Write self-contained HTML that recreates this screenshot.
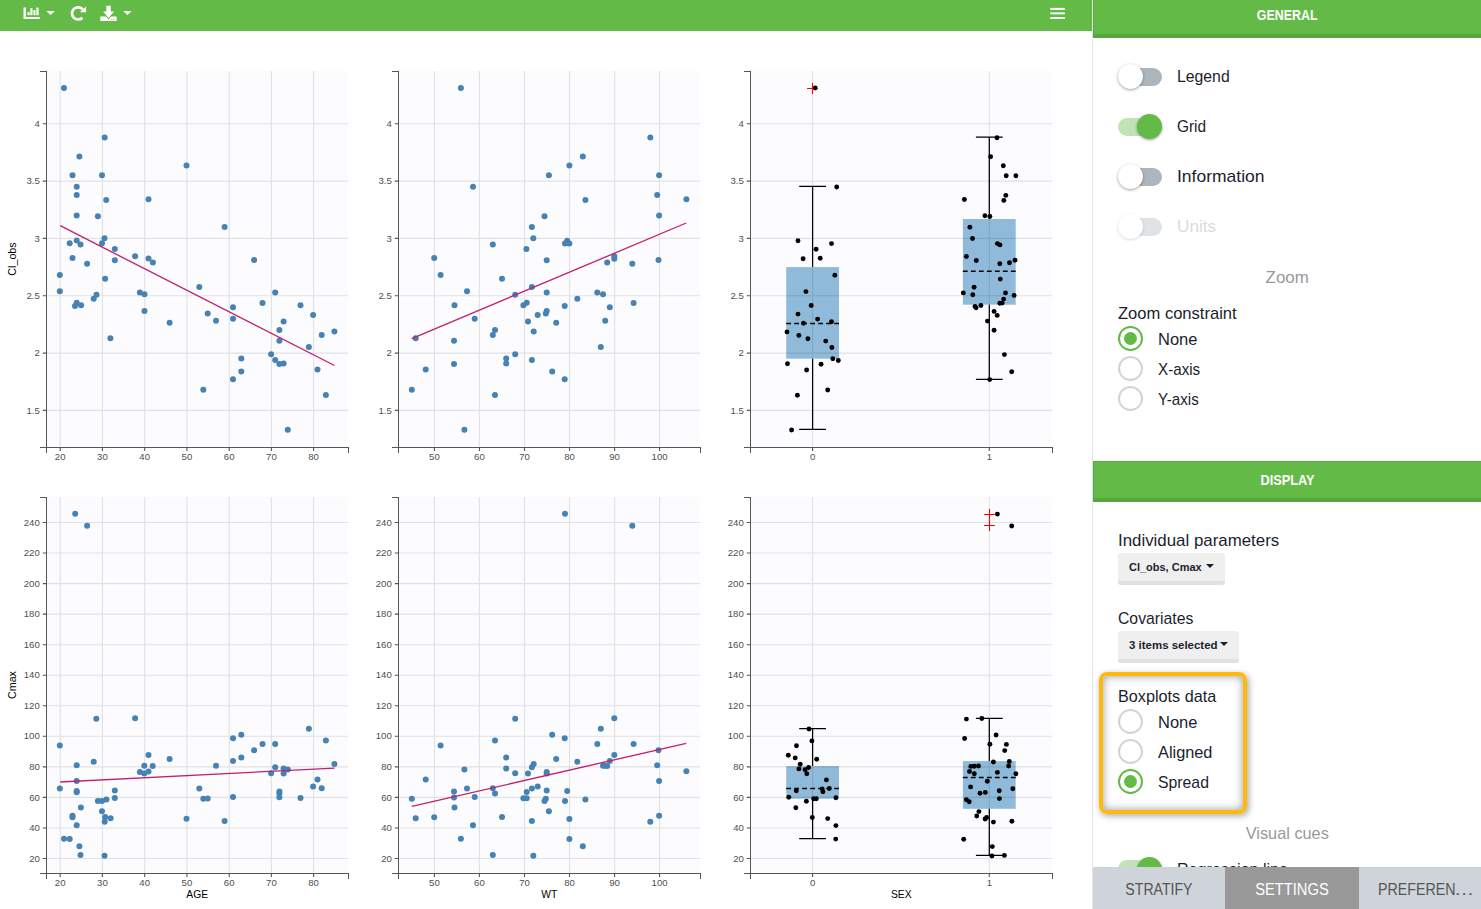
<!DOCTYPE html>
<html lang="en">
<head>
<meta charset="utf-8">
<title>Covariate viewer</title>
<style>
html,body{margin:0;padding:0;}
body{width:1481px;height:909px;overflow:hidden;position:relative;background:#fff;font-family:"Liberation Sans",sans-serif;color:#1d2030;}
.abs{position:absolute;}
#toolbar{left:0;top:0;width:1092px;height:31px;background:#63ba47;}
#plots{left:0;top:0;}
#plots text{font-family:"Liberation Sans",sans-serif;}
#sep{left:1092px;top:0;width:1px;height:909px;background:#e2e2ea;}
#panel{left:1093px;top:0;width:388px;height:909px;overflow:hidden;background:#fff;}
.hdr{position:absolute;left:0;width:388px;box-sizing:border-box;background:#63ba47;border-bottom:4px solid #57a63d;color:#fff;font-weight:bold;font-size:14.4px;text-align:center;}
.lbl{position:absolute;margin-top:1px;font-size:16.6px;line-height:20px;white-space:nowrap;color:#1b1e2e;}
.sub{position:absolute;margin-top:1px;left:0;width:388px;text-align:center;font-size:16.6px;line-height:20px;color:#999;}
.tg{position:absolute;left:25px;width:44px;height:18px;border-radius:9px;background:#adb5bd;}
.tg i{position:absolute;left:0;top:-3.5px;width:25px;height:25px;border-radius:50%;background:#fff;box-shadow:0 1px 3px rgba(0,0,0,.38);}
.tg.on{background:#c1e3b5;}
.tg.on i{left:19px;background:#63ba47;}
.tg.dis{background:#dfe3e6;}
.tg.dis i{box-shadow:0 1px 3px rgba(0,0,0,.15);}
.rd{position:absolute;left:25px;width:25px;height:25px;box-sizing:border-box;border:2px solid #ced4da;border-radius:50%;background:#fff;}
.rd.on{border-color:#63ba47;}
.rd.on:after{content:"";position:absolute;left:3.7px;top:3.7px;width:13.6px;height:13.6px;border-radius:50%;background:#63ba47;}
.btn{position:absolute;left:25px;height:31.5px;box-sizing:border-box;background:#efefef;border-bottom:4px solid #e0e0e0;border-radius:3px;font-weight:bold;font-size:11px;line-height:28.6px;padding-left:11px;color:#1b1e2e;white-space:nowrap;}
.btn b{position:absolute;top:11px;width:0;height:0;border-left:4.2px solid transparent;border-right:4.2px solid transparent;border-top:4.6px solid #1b1e2e;}
#hl{left:6px;top:672px;width:148px;height:142px;box-sizing:border-box;border:4px solid #ffb80c;border-radius:8px;box-shadow:1.5px 2px 6px rgba(0,0,0,.33),inset 0 0 8px rgba(0,0,0,.4);}
#tabs{left:-1px;top:867px;width:390px;height:42px;background:#ced4da;}
.tab{position:absolute;top:0;height:42px;line-height:45px;text-align:center;font-size:16.8px;color:#555;white-space:nowrap;}
.tab.act{background:#999;color:#fff;}
</style>
</head>
<body>
<svg id="plots" class="abs" width="1092" height="909" viewBox="0 0 1092 909">
<rect x="47" y="71" width="301" height="376" fill="#fcfcfe"/>
<path d="M60.2 71V447M102.4 71V447M144.7 71V447M186.9 71V447M229.2 71V447M271.4 71V447M313.6 71V447M47 123.8H348M47 181.1H348M47 238.4H348M47 295.8H348M47 353.1H348M47 410.4H348" stroke="#000" stroke-opacity="0.105" stroke-width="1.1" fill="none"/>
<path d="M40 71.5H46.5V453M40 447.5H348.5V453" stroke="#555" stroke-width="1" fill="none" shape-rendering="crispEdges"/>
<path d="M60.2 448v3M102.4 448v3M144.7 448v3M186.9 448v3M229.2 448v3M271.4 448v3M313.6 448v3M46 123.8h-3.2M46 181.1h-3.2M46 238.4h-3.2M46 295.8h-3.2M46 353.1h-3.2M46 410.4h-3.2" stroke="#555" stroke-width="1.1" fill="none"/>
<g font-size="9.6" fill="#4f4f4f">
<text x="60.2" y="459.7" text-anchor="middle">20</text>
<text x="102.4" y="459.7" text-anchor="middle">30</text>
<text x="144.7" y="459.7" text-anchor="middle">40</text>
<text x="186.9" y="459.7" text-anchor="middle">50</text>
<text x="229.2" y="459.7" text-anchor="middle">60</text>
<text x="271.4" y="459.7" text-anchor="middle">70</text>
<text x="313.6" y="459.7" text-anchor="middle">80</text>
<text x="39.8" y="126.9" text-anchor="end">4</text>
<text x="39.8" y="184.2" text-anchor="end">3.5</text>
<text x="39.8" y="241.5" text-anchor="end">3</text>
<text x="39.8" y="298.9" text-anchor="end">2.5</text>
<text x="39.8" y="356.2" text-anchor="end">2</text>
<text x="39.8" y="413.5" text-anchor="end">1.5</text>
</g>
<text transform="translate(16.4 259) rotate(-90)" text-anchor="middle" font-size="10.7" fill="#000">Cl_obs</text>
<g fill="#4682b4">
<circle cx="64" cy="87.9" r="3"/>
<circle cx="104.7" cy="137.4" r="3"/>
<circle cx="79.4" cy="156.5" r="3"/>
<circle cx="186.5" cy="165.4" r="3"/>
<circle cx="72.5" cy="175.3" r="3"/>
<circle cx="102" cy="175.3" r="3"/>
<circle cx="76.7" cy="186.7" r="3"/>
<circle cx="76.7" cy="195.1" r="3"/>
<circle cx="106.2" cy="199.9" r="3"/>
<circle cx="148.5" cy="199.2" r="3"/>
<circle cx="76.7" cy="215.5" r="3"/>
<circle cx="97.9" cy="216.2" r="3"/>
<circle cx="224.6" cy="227" r="3"/>
<circle cx="104.5" cy="238.2" r="3"/>
<circle cx="76.7" cy="240.4" r="3"/>
<circle cx="69.7" cy="243.3" r="3"/>
<circle cx="80.5" cy="244.6" r="3"/>
<circle cx="102" cy="243.3" r="3"/>
<circle cx="114.8" cy="249" r="3"/>
<circle cx="135.1" cy="256.2" r="3"/>
<circle cx="72.5" cy="258" r="3"/>
<circle cx="114.8" cy="260.2" r="3"/>
<circle cx="148.5" cy="258.4" r="3"/>
<circle cx="152.9" cy="262.4" r="3"/>
<circle cx="254.1" cy="260" r="3"/>
<circle cx="87.1" cy="263.7" r="3"/>
<circle cx="59.8" cy="275" r="3"/>
<circle cx="59.8" cy="291.3" r="3"/>
<circle cx="105.1" cy="278.8" r="3"/>
<circle cx="199.3" cy="286.9" r="3"/>
<circle cx="275.2" cy="292.4" r="3"/>
<circle cx="96.5" cy="294.8" r="3"/>
<circle cx="93.7" cy="298.8" r="3"/>
<circle cx="76.7" cy="302.8" r="3"/>
<circle cx="75" cy="306.1" r="3"/>
<circle cx="81.1" cy="305.2" r="3"/>
<circle cx="139.9" cy="292.6" r="3"/>
<circle cx="144.5" cy="294.2" r="3"/>
<circle cx="144.5" cy="311.1" r="3"/>
<circle cx="262.5" cy="303" r="3"/>
<circle cx="233" cy="307.2" r="3"/>
<circle cx="300.5" cy="305.2" r="3"/>
<circle cx="207.7" cy="313.5" r="3"/>
<circle cx="313.1" cy="315.1" r="3"/>
<circle cx="233" cy="318.8" r="3"/>
<circle cx="216" cy="320.8" r="3"/>
<circle cx="283.6" cy="321.5" r="3"/>
<circle cx="169.6" cy="322.8" r="3"/>
<circle cx="279.4" cy="330" r="3"/>
<circle cx="334.4" cy="331.6" r="3"/>
<circle cx="321.7" cy="335.1" r="3"/>
<circle cx="110.4" cy="338.2" r="3"/>
<circle cx="279.4" cy="340.8" r="3"/>
<circle cx="308.9" cy="347" r="3"/>
<circle cx="271.1" cy="354.3" r="3"/>
<circle cx="241.3" cy="358.4" r="3"/>
<circle cx="275.2" cy="360" r="3"/>
<circle cx="279.4" cy="363.9" r="3"/>
<circle cx="283.6" cy="363.5" r="3"/>
<circle cx="317.5" cy="369.4" r="3"/>
<circle cx="241.3" cy="371.4" r="3"/>
<circle cx="233" cy="379.3" r="3"/>
<circle cx="203.3" cy="389.7" r="3"/>
<circle cx="325.9" cy="395" r="3"/>
<circle cx="287.8" cy="429.7" r="3"/>
</g>
<path d="M60.2 225.7L334.5 365.5" stroke="#c02271" stroke-width="1.35" fill="none"/>
<rect x="399" y="71" width="301" height="376" fill="#fcfcfe"/>
<path d="M434.4 71V447M479.4 71V447M524.5 71V447M569.5 71V447M614.6 71V447M659.6 71V447M399 123.8H700M399 181.1H700M399 238.4H700M399 295.8H700M399 353.1H700M399 410.4H700" stroke="#000" stroke-opacity="0.105" stroke-width="1.1" fill="none"/>
<path d="M392 71.5H398.5V453M392 447.5H700.5V453" stroke="#555" stroke-width="1" fill="none" shape-rendering="crispEdges"/>
<path d="M434.4 448v3M479.4 448v3M524.5 448v3M569.5 448v3M614.6 448v3M659.6 448v3M398 123.8h-3.2M398 181.1h-3.2M398 238.4h-3.2M398 295.8h-3.2M398 353.1h-3.2M398 410.4h-3.2" stroke="#555" stroke-width="1.1" fill="none"/>
<g font-size="9.6" fill="#4f4f4f">
<text x="434.4" y="459.7" text-anchor="middle">50</text>
<text x="479.4" y="459.7" text-anchor="middle">60</text>
<text x="524.5" y="459.7" text-anchor="middle">70</text>
<text x="569.5" y="459.7" text-anchor="middle">80</text>
<text x="614.6" y="459.7" text-anchor="middle">90</text>
<text x="659.6" y="459.7" text-anchor="middle">100</text>
<text x="391.8" y="126.9" text-anchor="end">4</text>
<text x="391.8" y="184.2" text-anchor="end">3.5</text>
<text x="391.8" y="241.5" text-anchor="end">3</text>
<text x="391.8" y="298.9" text-anchor="end">2.5</text>
<text x="391.8" y="356.2" text-anchor="end">2</text>
<text x="391.8" y="413.5" text-anchor="end">1.5</text>
</g>
<g fill="#4682b4">
<circle cx="460.9" cy="87.9" r="3"/>
<circle cx="650.3" cy="137.4" r="3"/>
<circle cx="582.8" cy="156.5" r="3"/>
<circle cx="569.4" cy="165.4" r="3"/>
<circle cx="548.9" cy="175.3" r="3"/>
<circle cx="659.1" cy="175.3" r="3"/>
<circle cx="473" cy="186.7" r="3"/>
<circle cx="657.2" cy="195.1" r="3"/>
<circle cx="585.4" cy="199.9" r="3"/>
<circle cx="686.4" cy="199.2" r="3"/>
<circle cx="544.5" cy="216.2" r="3"/>
<circle cx="659.1" cy="215.5" r="3"/>
<circle cx="531.9" cy="227" r="3"/>
<circle cx="533.3" cy="238.2" r="3"/>
<circle cx="567.2" cy="240.8" r="3"/>
<circle cx="565" cy="243.5" r="3"/>
<circle cx="569.4" cy="243.5" r="3"/>
<circle cx="492.8" cy="244.6" r="3"/>
<circle cx="526.4" cy="249" r="3"/>
<circle cx="434.2" cy="258" r="3"/>
<circle cx="546.7" cy="260.2" r="3"/>
<circle cx="614.3" cy="256.2" r="3"/>
<circle cx="614.3" cy="258.7" r="3"/>
<circle cx="607.2" cy="262.4" r="3"/>
<circle cx="632.3" cy="263.7" r="3"/>
<circle cx="658.5" cy="260" r="3"/>
<circle cx="440.6" cy="275" r="3"/>
<circle cx="502" cy="278.8" r="3"/>
<circle cx="531.9" cy="286.9" r="3"/>
<circle cx="467" cy="291.3" r="3"/>
<circle cx="546.7" cy="292.6" r="3"/>
<circle cx="515.2" cy="294.8" r="3"/>
<circle cx="597.3" cy="292.4" r="3"/>
<circle cx="603" cy="294.2" r="3"/>
<circle cx="577.3" cy="298.8" r="3"/>
<circle cx="526.7" cy="302.8" r="3"/>
<circle cx="523.4" cy="305.2" r="3"/>
<circle cx="454.5" cy="305.2" r="3"/>
<circle cx="564.7" cy="306.1" r="3"/>
<circle cx="633.6" cy="303" r="3"/>
<circle cx="609.8" cy="307.2" r="3"/>
<circle cx="546.7" cy="311.1" r="3"/>
<circle cx="545.8" cy="313.5" r="3"/>
<circle cx="537.7" cy="315.1" r="3"/>
<circle cx="474.7" cy="318.8" r="3"/>
<circle cx="528" cy="321.5" r="3"/>
<circle cx="605.2" cy="320.8" r="3"/>
<circle cx="556.2" cy="322.8" r="3"/>
<circle cx="495" cy="330" r="3"/>
<circle cx="533.7" cy="331.6" r="3"/>
<circle cx="492.8" cy="335.1" r="3"/>
<circle cx="415.7" cy="338.2" r="3"/>
<circle cx="454" cy="340.8" r="3"/>
<circle cx="600.8" cy="347" r="3"/>
<circle cx="515.2" cy="354.3" r="3"/>
<circle cx="506.2" cy="358.4" r="3"/>
<circle cx="531.9" cy="360" r="3"/>
<circle cx="506.2" cy="363.5" r="3"/>
<circle cx="454" cy="363.9" r="3"/>
<circle cx="425.7" cy="369.4" r="3"/>
<circle cx="552.2" cy="371.4" r="3"/>
<circle cx="564.7" cy="379.3" r="3"/>
<circle cx="411.8" cy="389.7" r="3"/>
<circle cx="495" cy="395" r="3"/>
<circle cx="464.4" cy="429.7" r="3"/>
</g>
<path d="M411.8 338.6L686.2 223" stroke="#c02271" stroke-width="1.35" fill="none"/>
<rect x="751" y="71" width="301" height="376" fill="#fcfcfe"/>
<rect x="786.2" y="267.1" width="52.8" height="91.6" fill="#1f77b4" fill-opacity="0.49"/>
<rect x="962.9" y="219" width="52.8" height="85.7" fill="#1f77b4" fill-opacity="0.49"/>
<path d="M812.6 71V447M989.3 71V447M751 123.8H1052M751 181.1H1052M751 238.4H1052M751 295.8H1052M751 353.1H1052M751 410.4H1052" stroke="#000" stroke-opacity="0.105" stroke-width="1.1" fill="none"/>
<path d="M744 71.5H750.5V453M744 447.5H1052.5V453" stroke="#555" stroke-width="1" fill="none" shape-rendering="crispEdges"/>
<path d="M812.6 448v3M989.3 448v3M750 123.8h-3.2M750 181.1h-3.2M750 238.4h-3.2M750 295.8h-3.2M750 353.1h-3.2M750 410.4h-3.2" stroke="#555" stroke-width="1.1" fill="none"/>
<g font-size="9.6" fill="#4f4f4f">
<text x="812.6" y="459.7" text-anchor="middle">0</text>
<text x="989.3" y="459.7" text-anchor="middle">1</text>
<text x="743.8" y="126.9" text-anchor="end">4</text>
<text x="743.8" y="184.2" text-anchor="end">3.5</text>
<text x="743.8" y="241.5" text-anchor="end">3</text>
<text x="743.8" y="298.9" text-anchor="end">2.5</text>
<text x="743.8" y="356.2" text-anchor="end">2</text>
<text x="743.8" y="413.5" text-anchor="end">1.5</text>
</g>
<path d="M812.6 186.3V267.1M812.6 358.7V429.3M799.2 186.3h26.8M799.2 429.3h26.8" stroke="#000" stroke-width="1.25" fill="none"/>
<path d="M786.2 323.4h52.8" stroke="#000" stroke-width="1.5" stroke-dasharray="4.8 3.2" fill="none"/>
<path d="M807.1 88.5h10.8M812.5 83.1v10.8" stroke="#f00" stroke-width="1.1" fill="none"/>
<path d="M989.3 137.2V219M989.3 304.7V379.3M975.9 137.2h26.8M975.9 379.3h26.8" stroke="#000" stroke-width="1.25" fill="none"/>
<path d="M962.9 271.3h52.8" stroke="#000" stroke-width="1.5" stroke-dasharray="4.8 3.2" fill="none"/>
<g fill="#000">
<circle cx="815.2" cy="88" r="2.45"/>
<circle cx="836.7" cy="187" r="2.45"/>
<circle cx="798" cy="240.7" r="2.45"/>
<circle cx="831.5" cy="243.6" r="2.45"/>
<circle cx="816.1" cy="249.3" r="2.45"/>
<circle cx="803.1" cy="258.7" r="2.45"/>
<circle cx="820.2" cy="258.3" r="2.45"/>
<circle cx="834.8" cy="275.3" r="2.45"/>
<circle cx="805.9" cy="291.6" r="2.45"/>
<circle cx="811.2" cy="305.5" r="2.45"/>
<circle cx="798" cy="314.1" r="2.45"/>
<circle cx="817.6" cy="319.1" r="2.45"/>
<circle cx="831.5" cy="321.8" r="2.45"/>
<circle cx="803.5" cy="323.3" r="2.45"/>
<circle cx="787" cy="331.9" r="2.45"/>
<circle cx="798.9" cy="335.4" r="2.45"/>
<circle cx="807.9" cy="338.7" r="2.45"/>
<circle cx="825.7" cy="341.1" r="2.45"/>
<circle cx="831.9" cy="347.5" r="2.45"/>
<circle cx="832.8" cy="358.7" r="2.45"/>
<circle cx="838.3" cy="360.5" r="2.45"/>
<circle cx="787.5" cy="363.8" r="2.45"/>
<circle cx="821.1" cy="364.2" r="2.45"/>
<circle cx="806.6" cy="370" r="2.45"/>
<circle cx="827.7" cy="390" r="2.45"/>
<circle cx="797.4" cy="395.3" r="2.45"/>
<circle cx="791.6" cy="430" r="2.45"/>
<circle cx="997" cy="137.7" r="2.45"/>
<circle cx="990.6" cy="156.8" r="2.45"/>
<circle cx="1003.3" cy="165.7" r="2.45"/>
<circle cx="1006.2" cy="175.8" r="2.45"/>
<circle cx="1015.9" cy="175.8" r="2.45"/>
<circle cx="1005.8" cy="195.4" r="2.45"/>
<circle cx="964.4" cy="199.5" r="2.45"/>
<circle cx="1003.8" cy="200.4" r="2.45"/>
<circle cx="984.9" cy="215.8" r="2.45"/>
<circle cx="989.9" cy="216.5" r="2.45"/>
<circle cx="969.9" cy="227.3" r="2.45"/>
<circle cx="972.5" cy="238.5" r="2.45"/>
<circle cx="997.4" cy="243.6" r="2.45"/>
<circle cx="1000" cy="244.9" r="2.45"/>
<circle cx="966.4" cy="256.5" r="2.45"/>
<circle cx="976.3" cy="260.5" r="2.45"/>
<circle cx="1015" cy="260.3" r="2.45"/>
<circle cx="999.8" cy="263.8" r="2.45"/>
<circle cx="1009.5" cy="262.7" r="2.45"/>
<circle cx="1000.3" cy="279.1" r="2.45"/>
<circle cx="974.1" cy="287.2" r="2.45"/>
<circle cx="963.3" cy="292.9" r="2.45"/>
<circle cx="972.8" cy="294.7" r="2.45"/>
<circle cx="1005.5" cy="292.9" r="2.45"/>
<circle cx="1014.1" cy="295.4" r="2.45"/>
<circle cx="1003.6" cy="299.1" r="2.45"/>
<circle cx="999.8" cy="303.3" r="2.45"/>
<circle cx="1002.2" cy="303.1" r="2.45"/>
<circle cx="975" cy="306.4" r="2.45"/>
<circle cx="976.1" cy="307.7" r="2.45"/>
<circle cx="980.9" cy="305.5" r="2.45"/>
<circle cx="994.1" cy="311.4" r="2.45"/>
<circle cx="997.2" cy="315.4" r="2.45"/>
<circle cx="987.5" cy="321.1" r="2.45"/>
<circle cx="994.1" cy="330.3" r="2.45"/>
<circle cx="1004.4" cy="354.6" r="2.45"/>
<circle cx="1011.7" cy="371.7" r="2.45"/>
<circle cx="989.7" cy="379.6" r="2.45"/>
</g>
<rect x="47" y="497" width="301" height="376" fill="#fcfcfe"/>
<path d="M60.2 497V873M102.4 497V873M144.7 497V873M186.9 497V873M229.2 497V873M271.4 497V873M313.6 497V873M47 522.5H348M47 553H348M47 583.6H348M47 614.1H348M47 644.7H348M47 675.2H348M47 705.8H348M47 736.3H348M47 766.9H348M47 797.4H348M47 828H348M47 858.5H348" stroke="#000" stroke-opacity="0.105" stroke-width="1.1" fill="none"/>
<path d="M40 497.5H46.5V879M40 873.5H348.5V879" stroke="#555" stroke-width="1" fill="none" shape-rendering="crispEdges"/>
<path d="M60.2 874v3M102.4 874v3M144.7 874v3M186.9 874v3M229.2 874v3M271.4 874v3M313.6 874v3M46 522.5h-3.2M46 553h-3.2M46 583.6h-3.2M46 614.1h-3.2M46 644.7h-3.2M46 675.2h-3.2M46 705.8h-3.2M46 736.3h-3.2M46 766.9h-3.2M46 797.4h-3.2M46 828h-3.2M46 858.5h-3.2" stroke="#555" stroke-width="1.1" fill="none"/>
<g font-size="9.6" fill="#4f4f4f">
<text x="60.2" y="885.7" text-anchor="middle">20</text>
<text x="102.4" y="885.7" text-anchor="middle">30</text>
<text x="144.7" y="885.7" text-anchor="middle">40</text>
<text x="186.9" y="885.7" text-anchor="middle">50</text>
<text x="229.2" y="885.7" text-anchor="middle">60</text>
<text x="271.4" y="885.7" text-anchor="middle">70</text>
<text x="313.6" y="885.7" text-anchor="middle">80</text>
<text x="39.8" y="525.6" text-anchor="end">240</text>
<text x="39.8" y="556.1" text-anchor="end">220</text>
<text x="39.8" y="586.7" text-anchor="end">200</text>
<text x="39.8" y="617.2" text-anchor="end">180</text>
<text x="39.8" y="647.8" text-anchor="end">160</text>
<text x="39.8" y="678.3" text-anchor="end">140</text>
<text x="39.8" y="708.9" text-anchor="end">120</text>
<text x="39.8" y="739.4" text-anchor="end">100</text>
<text x="39.8" y="770" text-anchor="end">80</text>
<text x="39.8" y="800.5" text-anchor="end">60</text>
<text x="39.8" y="831.1" text-anchor="end">40</text>
<text x="39.8" y="861.6" text-anchor="end">20</text>
</g>
<text x="197.2" y="897.8" text-anchor="middle" font-size="10.3" fill="#000">AGE</text>
<text transform="translate(16.4 685) rotate(-90)" text-anchor="middle" font-size="10.7" fill="#000">Cmax</text>
<g fill="#4682b4">
<circle cx="75.2" cy="513.8" r="3"/>
<circle cx="87.1" cy="525.7" r="3"/>
<circle cx="96.3" cy="718.8" r="3"/>
<circle cx="135.1" cy="718.2" r="3"/>
<circle cx="308.9" cy="728.7" r="3"/>
<circle cx="241.3" cy="734.7" r="3"/>
<circle cx="233" cy="738.2" r="3"/>
<circle cx="325.9" cy="740.6" r="3"/>
<circle cx="59.8" cy="745.5" r="3"/>
<circle cx="262.5" cy="743.9" r="3"/>
<circle cx="275.2" cy="744.1" r="3"/>
<circle cx="254.1" cy="750.3" r="3"/>
<circle cx="148.5" cy="754.9" r="3"/>
<circle cx="241.3" cy="757.6" r="3"/>
<circle cx="169.6" cy="758.9" r="3"/>
<circle cx="93.7" cy="761.7" r="3"/>
<circle cx="233" cy="761.1" r="3"/>
<circle cx="76.7" cy="765.3" r="3"/>
<circle cx="144.3" cy="765.7" r="3"/>
<circle cx="152.7" cy="766.1" r="3"/>
<circle cx="216" cy="765.7" r="3"/>
<circle cx="334.4" cy="763.9" r="3"/>
<circle cx="275.2" cy="767.2" r="3"/>
<circle cx="283.6" cy="768.6" r="3"/>
<circle cx="287.8" cy="769.4" r="3"/>
<circle cx="139.9" cy="772.1" r="3"/>
<circle cx="144.3" cy="773.4" r="3"/>
<circle cx="148.5" cy="771.4" r="3"/>
<circle cx="271.1" cy="773.2" r="3"/>
<circle cx="283.6" cy="773.4" r="3"/>
<circle cx="76.7" cy="780.9" r="3"/>
<circle cx="317.5" cy="779.6" r="3"/>
<circle cx="59.8" cy="788.6" r="3"/>
<circle cx="76.7" cy="791" r="3"/>
<circle cx="76.7" cy="792.3" r="3"/>
<circle cx="114.8" cy="790.4" r="3"/>
<circle cx="199.3" cy="788.4" r="3"/>
<circle cx="313.1" cy="786.6" r="3"/>
<circle cx="321.7" cy="788.2" r="3"/>
<circle cx="279.4" cy="791.5" r="3"/>
<circle cx="279.4" cy="793.4" r="3"/>
<circle cx="279.4" cy="797.2" r="3"/>
<circle cx="114.8" cy="798.1" r="3"/>
<circle cx="233" cy="797" r="3"/>
<circle cx="300.5" cy="798.1" r="3"/>
<circle cx="203.3" cy="798.7" r="3"/>
<circle cx="207.7" cy="798.5" r="3"/>
<circle cx="97.9" cy="801.1" r="3"/>
<circle cx="102" cy="800.9" r="3"/>
<circle cx="106.4" cy="799.4" r="3"/>
<circle cx="80.9" cy="807.5" r="3"/>
<circle cx="102" cy="811.3" r="3"/>
<circle cx="72.5" cy="815.7" r="3"/>
<circle cx="72.5" cy="817.2" r="3"/>
<circle cx="105.1" cy="817" r="3"/>
<circle cx="110.6" cy="818.3" r="3"/>
<circle cx="186.5" cy="818.7" r="3"/>
<circle cx="224.6" cy="820.9" r="3"/>
<circle cx="104.7" cy="821.8" r="3"/>
<circle cx="76.7" cy="825.3" r="3"/>
<circle cx="64" cy="838.8" r="3"/>
<circle cx="69.7" cy="839" r="3"/>
<circle cx="79.4" cy="846.3" r="3"/>
<circle cx="80.5" cy="855.1" r="3"/>
<circle cx="104.5" cy="855.7" r="3"/>
</g>
<path d="M60.2 782L334.5 768.1" stroke="#c02271" stroke-width="1.35" fill="none"/>
<rect x="399" y="497" width="301" height="376" fill="#fcfcfe"/>
<path d="M434.4 497V873M479.4 497V873M524.5 497V873M569.5 497V873M614.6 497V873M659.6 497V873M399 522.5H700M399 553H700M399 583.6H700M399 614.1H700M399 644.7H700M399 675.2H700M399 705.8H700M399 736.3H700M399 766.9H700M399 797.4H700M399 828H700M399 858.5H700" stroke="#000" stroke-opacity="0.105" stroke-width="1.1" fill="none"/>
<path d="M392 497.5H398.5V879M392 873.5H700.5V879" stroke="#555" stroke-width="1" fill="none" shape-rendering="crispEdges"/>
<path d="M434.4 874v3M479.4 874v3M524.5 874v3M569.5 874v3M614.6 874v3M659.6 874v3M398 522.5h-3.2M398 553h-3.2M398 583.6h-3.2M398 614.1h-3.2M398 644.7h-3.2M398 675.2h-3.2M398 705.8h-3.2M398 736.3h-3.2M398 766.9h-3.2M398 797.4h-3.2M398 828h-3.2M398 858.5h-3.2" stroke="#555" stroke-width="1.1" fill="none"/>
<g font-size="9.6" fill="#4f4f4f">
<text x="434.4" y="885.7" text-anchor="middle">50</text>
<text x="479.4" y="885.7" text-anchor="middle">60</text>
<text x="524.5" y="885.7" text-anchor="middle">70</text>
<text x="569.5" y="885.7" text-anchor="middle">80</text>
<text x="614.6" y="885.7" text-anchor="middle">90</text>
<text x="659.6" y="885.7" text-anchor="middle">100</text>
<text x="391.8" y="525.6" text-anchor="end">240</text>
<text x="391.8" y="556.1" text-anchor="end">220</text>
<text x="391.8" y="586.7" text-anchor="end">200</text>
<text x="391.8" y="617.2" text-anchor="end">180</text>
<text x="391.8" y="647.8" text-anchor="end">160</text>
<text x="391.8" y="678.3" text-anchor="end">140</text>
<text x="391.8" y="708.9" text-anchor="end">120</text>
<text x="391.8" y="739.4" text-anchor="end">100</text>
<text x="391.8" y="770" text-anchor="end">80</text>
<text x="391.8" y="800.5" text-anchor="end">60</text>
<text x="391.8" y="831.1" text-anchor="end">40</text>
<text x="391.8" y="861.6" text-anchor="end">20</text>
</g>
<text x="549.2" y="897.8" text-anchor="middle" font-size="10.3" fill="#000">WT</text>
<g fill="#4682b4">
<circle cx="565" cy="513.8" r="3"/>
<circle cx="632.3" cy="525.7" r="3"/>
<circle cx="515.2" cy="718.8" r="3"/>
<circle cx="614.3" cy="718.2" r="3"/>
<circle cx="600.8" cy="728.7" r="3"/>
<circle cx="552.2" cy="734.7" r="3"/>
<circle cx="564.7" cy="738.2" r="3"/>
<circle cx="495" cy="740.6" r="3"/>
<circle cx="440.6" cy="745.5" r="3"/>
<circle cx="597.3" cy="744.1" r="3"/>
<circle cx="633.6" cy="743.9" r="3"/>
<circle cx="658.5" cy="750.3" r="3"/>
<circle cx="614.3" cy="754.9" r="3"/>
<circle cx="506.2" cy="757.6" r="3"/>
<circle cx="556.2" cy="758.9" r="3"/>
<circle cx="577.3" cy="761.7" r="3"/>
<circle cx="609.8" cy="761.1" r="3"/>
<circle cx="533.7" cy="763.9" r="3"/>
<circle cx="531.9" cy="767.2" r="3"/>
<circle cx="603" cy="765.7" r="3"/>
<circle cx="605.2" cy="765.7" r="3"/>
<circle cx="607.2" cy="766.1" r="3"/>
<circle cx="657.2" cy="765.3" r="3"/>
<circle cx="464.4" cy="769.4" r="3"/>
<circle cx="506.2" cy="768.6" r="3"/>
<circle cx="515.2" cy="773.2" r="3"/>
<circle cx="528" cy="773.4" r="3"/>
<circle cx="546.7" cy="772.1" r="3"/>
<circle cx="546.7" cy="773.4" r="3"/>
<circle cx="686.4" cy="771.2" r="3"/>
<circle cx="425.7" cy="779.6" r="3"/>
<circle cx="659.1" cy="780.9" r="3"/>
<circle cx="467" cy="788.6" r="3"/>
<circle cx="492.8" cy="788.2" r="3"/>
<circle cx="537.7" cy="786.6" r="3"/>
<circle cx="531.9" cy="788.4" r="3"/>
<circle cx="454" cy="791.5" r="3"/>
<circle cx="546.7" cy="790.4" r="3"/>
<circle cx="567.2" cy="791" r="3"/>
<circle cx="495" cy="793.4" r="3"/>
<circle cx="526.7" cy="792.1" r="3"/>
<circle cx="411.8" cy="798.7" r="3"/>
<circle cx="454" cy="797.4" r="3"/>
<circle cx="474.7" cy="797" r="3"/>
<circle cx="523.4" cy="798.3" r="3"/>
<circle cx="526.7" cy="798.3" r="3"/>
<circle cx="545.8" cy="798.7" r="3"/>
<circle cx="544.5" cy="801.1" r="3"/>
<circle cx="565" cy="800.9" r="3"/>
<circle cx="585.4" cy="799.4" r="3"/>
<circle cx="454.5" cy="807.5" r="3"/>
<circle cx="548.9" cy="811.3" r="3"/>
<circle cx="415.7" cy="818.3" r="3"/>
<circle cx="434.2" cy="817.2" r="3"/>
<circle cx="502" cy="817" r="3"/>
<circle cx="659.1" cy="815.7" r="3"/>
<circle cx="531.9" cy="820.9" r="3"/>
<circle cx="569.4" cy="819" r="3"/>
<circle cx="650.3" cy="821.8" r="3"/>
<circle cx="473" cy="825.3" r="3"/>
<circle cx="460.9" cy="838.8" r="3"/>
<circle cx="569.4" cy="839" r="3"/>
<circle cx="582.8" cy="846.3" r="3"/>
<circle cx="492.8" cy="855.1" r="3"/>
<circle cx="533.3" cy="855.7" r="3"/>
</g>
<path d="M411.8 806.4L686.2 743.3" stroke="#c02271" stroke-width="1.35" fill="none"/>
<rect x="751" y="497" width="301" height="376" fill="#fcfcfe"/>
<rect x="786.2" y="766.1" width="52.8" height="32.6" fill="#1f77b4" fill-opacity="0.49"/>
<rect x="962.9" y="761.1" width="52.8" height="47.7" fill="#1f77b4" fill-opacity="0.49"/>
<path d="M812.6 497V873M989.3 497V873M751 522.5H1052M751 553H1052M751 583.6H1052M751 614.1H1052M751 644.7H1052M751 675.2H1052M751 705.8H1052M751 736.3H1052M751 766.9H1052M751 797.4H1052M751 828H1052M751 858.5H1052" stroke="#000" stroke-opacity="0.105" stroke-width="1.1" fill="none"/>
<path d="M744 497.5H750.5V879M744 873.5H1052.5V879" stroke="#555" stroke-width="1" fill="none" shape-rendering="crispEdges"/>
<path d="M812.6 874v3M989.3 874v3M750 522.5h-3.2M750 553h-3.2M750 583.6h-3.2M750 614.1h-3.2M750 644.7h-3.2M750 675.2h-3.2M750 705.8h-3.2M750 736.3h-3.2M750 766.9h-3.2M750 797.4h-3.2M750 828h-3.2M750 858.5h-3.2" stroke="#555" stroke-width="1.1" fill="none"/>
<g font-size="9.6" fill="#4f4f4f">
<text x="812.6" y="885.7" text-anchor="middle">0</text>
<text x="989.3" y="885.7" text-anchor="middle">1</text>
<text x="743.8" y="525.6" text-anchor="end">240</text>
<text x="743.8" y="556.1" text-anchor="end">220</text>
<text x="743.8" y="586.7" text-anchor="end">200</text>
<text x="743.8" y="617.2" text-anchor="end">180</text>
<text x="743.8" y="647.8" text-anchor="end">160</text>
<text x="743.8" y="678.3" text-anchor="end">140</text>
<text x="743.8" y="708.9" text-anchor="end">120</text>
<text x="743.8" y="739.4" text-anchor="end">100</text>
<text x="743.8" y="770" text-anchor="end">80</text>
<text x="743.8" y="800.5" text-anchor="end">60</text>
<text x="743.8" y="831.1" text-anchor="end">40</text>
<text x="743.8" y="861.6" text-anchor="end">20</text>
</g>
<text x="901.2" y="897.8" text-anchor="middle" font-size="10.3" fill="#000">SEX</text>
<path d="M812.6 728.5V766.1M812.6 798.7V838.5M799.2 728.5h26.8M799.2 838.5h26.8" stroke="#000" stroke-width="1.25" fill="none"/>
<path d="M786.2 788.4h52.8" stroke="#000" stroke-width="1.5" stroke-dasharray="4.8 3.2" fill="none"/>
<path d="M989.3 718.4V761.1M989.3 808.8V855.3M975.9 718.4h26.8M975.9 855.3h26.8" stroke="#000" stroke-width="1.25" fill="none"/>
<path d="M962.9 777.6h52.8" stroke="#000" stroke-width="1.5" stroke-dasharray="4.8 3.2" fill="none"/>
<path d="M984.1 514.5h10.8M989.5 509.1v10.8" stroke="#f00" stroke-width="1.1" fill="none"/>
<path d="M984.1 525.5h10.8M989.5 520.1v10.8" stroke="#f00" stroke-width="1.1" fill="none"/>
<g fill="#000">
<circle cx="809" cy="729" r="2.45"/>
<circle cx="811.9" cy="740.9" r="2.45"/>
<circle cx="796.5" cy="745.8" r="2.45"/>
<circle cx="788.3" cy="755.2" r="2.45"/>
<circle cx="795.2" cy="757.9" r="2.45"/>
<circle cx="816.7" cy="759.2" r="2.45"/>
<circle cx="800.2" cy="764.2" r="2.45"/>
<circle cx="798.9" cy="768.9" r="2.45"/>
<circle cx="805.1" cy="769.7" r="2.45"/>
<circle cx="808.6" cy="767.5" r="2.45"/>
<circle cx="806.8" cy="773.7" r="2.45"/>
<circle cx="826.4" cy="779.9" r="2.45"/>
<circle cx="822.2" cy="788.9" r="2.45"/>
<circle cx="829.3" cy="788.5" r="2.45"/>
<circle cx="796.3" cy="790.7" r="2.45"/>
<circle cx="822.9" cy="791.8" r="2.45"/>
<circle cx="788.8" cy="797.3" r="2.45"/>
<circle cx="835.9" cy="797.7" r="2.45"/>
<circle cx="813.6" cy="798.8" r="2.45"/>
<circle cx="816.3" cy="798.8" r="2.45"/>
<circle cx="806.4" cy="801.2" r="2.45"/>
<circle cx="795.8" cy="807.8" r="2.45"/>
<circle cx="812.3" cy="817.5" r="2.45"/>
<circle cx="827.7" cy="818.6" r="2.45"/>
<circle cx="835.9" cy="825.6" r="2.45"/>
<circle cx="835.7" cy="839.1" r="2.45"/>
<circle cx="997.4" cy="514.1" r="2.45"/>
<circle cx="1011.7" cy="526" r="2.45"/>
<circle cx="966.4" cy="719.1" r="2.45"/>
<circle cx="981.8" cy="718.5" r="2.45"/>
<circle cx="996.1" cy="735" r="2.45"/>
<circle cx="964.6" cy="738.5" r="2.45"/>
<circle cx="989.9" cy="744.2" r="2.45"/>
<circle cx="1006.4" cy="744.4" r="2.45"/>
<circle cx="1004.7" cy="750.6" r="2.45"/>
<circle cx="993.4" cy="762" r="2.45"/>
<circle cx="1009.3" cy="761.4" r="2.45"/>
<circle cx="970.8" cy="766.4" r="2.45"/>
<circle cx="974.3" cy="766.2" r="2.45"/>
<circle cx="978.5" cy="766" r="2.45"/>
<circle cx="1008.6" cy="766" r="2.45"/>
<circle cx="969.5" cy="771.5" r="2.45"/>
<circle cx="974.3" cy="773.7" r="2.45"/>
<circle cx="997.4" cy="772.4" r="2.45"/>
<circle cx="1015.9" cy="773.7" r="2.45"/>
<circle cx="987.3" cy="781.2" r="2.45"/>
<circle cx="970.6" cy="786.9" r="2.45"/>
<circle cx="1012.8" cy="788.7" r="2.45"/>
<circle cx="999.2" cy="790.7" r="2.45"/>
<circle cx="980" cy="793.3" r="2.45"/>
<circle cx="985.3" cy="792.4" r="2.45"/>
<circle cx="999.4" cy="798.6" r="2.45"/>
<circle cx="966.4" cy="799.7" r="2.45"/>
<circle cx="969.2" cy="801.7" r="2.45"/>
<circle cx="978.9" cy="811.6" r="2.45"/>
<circle cx="976.7" cy="816" r="2.45"/>
<circle cx="985.1" cy="819" r="2.45"/>
<circle cx="986.6" cy="817.5" r="2.45"/>
<circle cx="993.4" cy="822.1" r="2.45"/>
<circle cx="1011.9" cy="821.2" r="2.45"/>
<circle cx="963.7" cy="839.3" r="2.45"/>
<circle cx="992.3" cy="846.6" r="2.45"/>
<circle cx="991.9" cy="856" r="2.45"/>
<circle cx="1004.4" cy="855.4" r="2.45"/>
</g>
</svg>
<div id="toolbar" class="abs">
<svg width="1092" height="31" viewBox="0 0 1092 31" fill="#fff">
<path d="M23.5 7.6h2.5v9.3h13.8v2h-16.3z"/>
<rect x="27.5" y="12.1" width="2.1" height="3.1"/><rect x="30.3" y="8.2" width="2.2" height="7"/><rect x="33.4" y="10.1" width="2.1" height="5.1"/><rect x="36.3" y="7.6" width="2.3" height="7.6"/>
<path d="M46.3 10.9h8.5l-4.25 4.2z"/>
<path d="M82.77 9.48A6.1 6.1 0 1 0 82.41 17.71" fill="none" stroke="#fff" stroke-width="2.7"/>
<path d="M86.1 6.5v5.7h-6.2z"/>
<path d="M106.3 5.8h4.5v5.8h3.2L108.55 18L103.1 11.6h3.2z"/>
<path d="M100.3 16.5H106L108.55 19.4L111.1 16.5H116.7V21H100.3z"/>
<circle cx="111.3" cy="19.5" r=".55" fill="#63ba47"/><circle cx="113.7" cy="19.5" r=".55" fill="#63ba47"/>
<path d="M123.2 10.9h8.5l-4.25 4.2z"/>
<rect x="1050.3" y="7.9" width="14.5" height="2"/><rect x="1050.3" y="12.4" width="14.5" height="1.9"/><rect x="1050.3" y="17" width="14.5" height="2"/>
</svg>
</div>
<div id="sep" class="abs"></div>
<div id="panel" class="abs">
  <div class="hdr" style="top:-3px;height:41px;line-height:37px;border-left:1px solid #5cb040;"><span style="display:inline-block;transform:scaleX(0.862);transform-origin:50% 50%">GENERAL</span></div>

  <div class="tg" style="top:67.5px"><i></i></div><div class="lbl" style="left:84px;top:66px"><span style="display:inline-block;transform:scaleX(0.951);transform-origin:0 50%">Legend</span></div>
  <div class="tg on" style="top:117.5px"><i></i></div><div class="lbl" style="left:84px;top:116px"><span style="display:inline-block;transform:scaleX(0.929);transform-origin:0 50%">Grid</span></div>
  <div class="tg" style="top:167.5px"><i></i></div><div class="lbl" style="left:84px;top:166px"><span style="display:inline-block;transform:scaleX(1.054);transform-origin:0 50%">Information</span></div>
  <div class="tg dis" style="top:217.5px"><i></i></div><div class="lbl" style="left:84px;top:216px;color:#dadbdd"><span style="display:inline-block;transform:scaleX(1.033);transform-origin:0 50%">Units</span></div>

  <div class="sub" style="top:267px"><span style="display:inline-block;transform:scaleX(1.019);transform-origin:50% 50%">Zoom</span></div>
  <div class="lbl" style="left:25px;top:303px"><span style="display:inline-block;transform:scaleX(0.997);transform-origin:0 50%">Zoom constraint</span></div>
  <div class="rd on" style="top:326px"></div><div class="lbl" style="left:65px;top:329px"><span style="display:inline-block;transform:scaleX(0.994);transform-origin:0 50%">None</span></div>
  <div class="rd" style="top:356px"></div><div class="lbl" style="left:65px;top:359px"><span style="display:inline-block;transform:scaleX(0.915);transform-origin:0 50%">X-axis</span></div>
  <div class="rd" style="top:386px"></div><div class="lbl" style="left:65px;top:389px"><span style="display:inline-block;transform:scaleX(0.915);transform-origin:0 50%">Y-axis</span></div>

  <div class="hdr" style="top:461px;height:41px;line-height:37px;border-top:1px solid #5cb040;border-left:1px solid #5cb040;"><span style="display:inline-block;transform:scaleX(0.887);transform-origin:50% 50%">DISPLAY</span></div>

  <div class="lbl" style="left:25px;top:530px"><span style="display:inline-block;transform:scaleX(1.016);transform-origin:0 50%">Individual parameters</span></div>
  <div class="btn" style="top:553.2px;width:106.8px"><span style="display:inline-block;transform:scaleX(0.998);transform-origin:0 50%">Cl_obs, Cmax</span><b style="left:88.1px"></b></div>
  <div class="lbl" style="left:25px;top:608px"><span style="display:inline-block;transform:scaleX(0.949);transform-origin:0 50%">Covariates</span></div>
  <div class="btn" style="top:631.2px;width:120.8px"><span style="display:inline-block;transform:scaleX(1.042);transform-origin:0 50%">3 items selected</span><b style="left:102.4px"></b></div>

  <div id="hl" class="abs"></div>
  <div class="lbl" style="left:25px;top:685.5px"><span style="display:inline-block;transform:scaleX(0.977);transform-origin:0 50%">Boxplots data</span></div>
  <div class="rd" style="top:709px"></div><div class="lbl" style="left:65px;top:711.5px"><span style="display:inline-block;transform:scaleX(0.994);transform-origin:0 50%">None</span></div>
  <div class="rd" style="top:739px"></div><div class="lbl" style="left:65px;top:741.5px"><span style="display:inline-block;transform:scaleX(0.983);transform-origin:0 50%">Aligned</span></div>
  <div class="rd on" style="top:769px"></div><div class="lbl" style="left:65px;top:771.5px"><span style="display:inline-block;transform:scaleX(0.952);transform-origin:0 50%">Spread</span></div>

  <div class="sub" style="top:822.5px"><span style="display:inline-block;transform:scaleX(0.983);transform-origin:50% 50%">Visual cues</span></div>
  <div class="tg on" style="top:860px"><i></i></div><div class="lbl" style="left:84px;top:859px"><span style="display:inline-block;transform:scaleX(0.970);transform-origin:0 50%">Regression line</span></div>

  <div id="tabs" class="abs">
    <div class="tab" style="left:0;width:133px"><span style="display:inline-block;transform:scaleX(0.841);transform-origin:50% 50%">STRATIFY</span></div>
    <div class="tab act" style="left:133px;width:134px"><span style="display:inline-block;transform:scaleX(0.876);transform-origin:50% 50%">SETTINGS</span></div>
    <div class="tab" style="left:267px;width:123px;text-align:left"><span style="position:absolute;left:19.25px;top:0;display:inline-block;transform:scaleX(.849);transform-origin:0 50%">PREFEREN</span><span style="position:absolute;left:95.2px;top:0;display:inline-block;transform:scaleX(1.2);transform-origin:0 50%">…</span></div>
  </div>
</div>
</body>
</html>
